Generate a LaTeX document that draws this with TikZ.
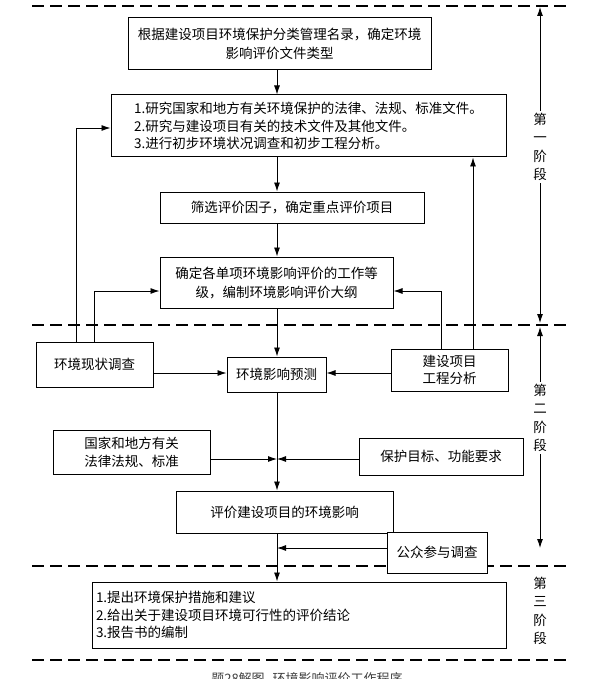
\documentclass[tikz,border=0pt]{standalone}
\usepackage{fontspec}
\setmainfont{Noto Sans CJK SC}
\usetikzlibrary{arrows.meta}
\begin{document}
\begin{tikzpicture}[x=1pt,y=-1pt,
  box/.style={draw, line width=1pt, fill=white, inner sep=2pt,
    font=\fontsize{13.5}{19}\selectfont, align=center},
  conn/.style={line width=0.9pt, -{Latex[length=9pt,width=6pt]}},
  sep/.style={line width=2pt, dash pattern=on 12pt off 6pt},
  stagetext/.style={font=\fontsize{13.5}{18.5}\selectfont, align=center, inner sep=2pt}]
\useasboundingbox[fill=white] (0,0) rectangle (601,679);

% separators
\draw[sep] (32,6) -- (569,6);
\draw[sep] (32,325) -- (569,325);
\draw[sep] (32,566) -- (569,566);
\draw[sep] (32,660) -- (569,660);

% boxes
\node[box, minimum width=303pt, minimum height=52pt] (A) at (279.5,44)
  {根据建设项目环境保护分类管理名录，确定环境\\影响评价文件类型};
\node[box, minimum width=395pt, minimum height=62pt, align=left,
  font=\fontsize{13.5}{17.5}\selectfont] (B) at (308.5,126)
  {1.研究国家和地方有关环境保护的法律、法规、标准文件。\\2.研究与建设项目有关的技术文件及其他文件。\\3.进行初步环境状况调查和初步工程分析。};
\node[box, minimum width=264pt, minimum height=31pt] (C) at (292,207.5)
  {筛选评价因子，确定重点评价项目};
\node[box, minimum width=233pt, minimum height=51pt] (D) at (276.5,282.5)
  {确定各单项环境影响评价的工作等\\级，编制环境影响评价大纲};
\node[box, minimum width=117pt, minimum height=45pt] (E) at (94.5,364.5)
  {环境现状调查};
\node[box, minimum width=99pt, minimum height=35pt] (F) at (276.5,374.5)
  {环境影响预测};
\node[box, minimum width=117pt, minimum height=42pt,
  font=\fontsize{13.5}{17}\selectfont] (G) at (449.5,370)
  {建设项目\\工程分析};
\node[box, minimum width=157pt, minimum height=44pt,
  font=\fontsize{13.5}{18}\selectfont] (H) at (131.5,452)
  {国家和地方有关\\法律法规、标准};
\node[box, minimum width=164pt, minimum height=37pt] (I) at (441,456.5)
  {保护目标、功能要求};
\node[box, minimum width=217pt, minimum height=42pt] (J) at (284.5,512)
  {评价建设项目的环境影响};
\node[box, minimum width=100pt, minimum height=41pt] (K) at (437,552.5)
  {公众参与调查};
\node[box, minimum width=414pt, minimum height=66pt, text width=406pt, align=left,
  font=\fontsize{13.5}{17.5}\selectfont] (L) at (299,615)
  {1.提出环境保护措施和建议\\2.给出关于建设项目环境可行性的评价结论\\3.报告书的编制};

% stage labels
\node[stagetext] (S1) at (540,147) {第\\一\\阶\\段};
\node[stagetext] (S2) at (540,418) {第\\二\\阶\\段};
\node[stagetext] (S3) at (540,611) {第\\三\\阶\\段};

% helper coordinates
\coordinate (mx) at (277,0);
\coordinate (jy) at (277,459);
\coordinate (jk) at (277,548);
\coordinate (ey) at (0,373);
\coordinate (l1) at (76,128);
\coordinate (l2) at (94,291);
\coordinate (r1) at (441,291);
\coordinate (r2) at (473,0);
\coordinate (s1t) at (540,7);
\coordinate (s1b) at (540,323);
\coordinate (s2t) at (540,327);
\coordinate (s2b) at (540,548);

% main flow
\draw[conn] (A.south -| mx) -- (B.north -| mx);
\draw[conn] (B.south -| mx) -- (C.north -| mx);
\draw[conn] (C.south -| mx) -- (D.north -| mx);
\draw[conn] (D.south -| mx) -- (F.north -| mx);
\draw[conn] (F.south -| mx) -- (J.north -| mx);
\draw[conn] (J.south -| mx) -- (L.north -| mx);
\draw[conn] (H.east |- jy) -- (jy);
\draw[conn] (I.west |- jy) -- (jy);
\draw[conn] (K.west |- jk) -- (jk);
\draw[conn] (E.east |- ey) -- (F.west |- ey);
\draw[conn] (G.west |- ey) -- (F.east |- ey);

% feedback lines
\draw[conn] (E.north -| l1) -- (l1) -- (B.west |- l1);
\draw[conn] (E.north -| l2) -- (l2) -- (D.west |- l2);
\draw[conn] (G.north -| r1) -- (r1) -- (D.east |- r1);
\draw[conn] (G.north -| r2) -- (B.south -| r2);

% stage arrows
\draw[conn] (S1.north) -- (s1t);
\draw[conn] (S1.south) -- (s1b);
\draw[conn] (S2.north) -- (s2t);
\draw[conn] (S2.south) -- (s2b);

% caption (cut by the lower edge)
\node[anchor=north, inner sep=0pt, text=black!75, font=\fontsize{13}{15}\selectfont] (cap) at (307,672)
  {题28解图\hspace{8pt}环境影响评价工作程序};
\end{tikzpicture}
\end{document}
